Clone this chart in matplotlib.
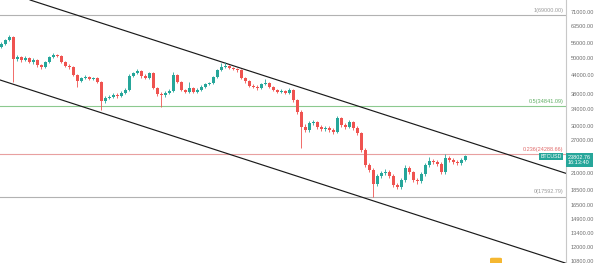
import matplotlib
matplotlib.use("Agg")
import matplotlib.pyplot as plt
from matplotlib.patches import FancyBboxPatch
from matplotlib.ticker import FixedLocator, NullLocator, FuncFormatter

# BTCUSD candles (oldest first)
opens = [54410, 55640, 57350, 58650, 49670, 50440, 49300, 50050, 48560, 49300,
         47480, 46770, 48560, 50440, 51200, 50810, 48560, 47120, 46770, 44030,
         42080, 43040, 43370, 42720, 43040, 41760, 36180, 37010, 37290, 37860,
         37570, 38430, 39310, 43700, 44690, 45380, 43700, 43040, 44690, 39910,
         38140, 37860, 38430, 39020, 44030, 41760, 39310, 38720, 39910, 38720,
         39310, 40210, 41140, 41440, 43370, 45720, 46770, 47120, 46410, 46070,
         45720, 43040, 42080, 40520, 40210, 39910, 41140, 41440, 40210, 39310,
         38720, 39020, 38430, 39310, 36450, 33300, 29730, 29060, 30640, 30870,
         29730, 29290, 29510, 29060, 28630, 31820, 30180, 29730, 30870, 29510,
         28410, 25000, 22320, 21490, 19330, 20540, 21010, 21170, 20540, 19190,
         18900, 19930, 21810, 21170, 19930, 19780, 20850, 22320, 23000, 22830,
         22490, 21170, 23530, 23180, 22830, 22650, 23180]
closes = [55640, 57350, 58650, 49670, 50440, 49300, 50050, 48560, 49300, 47480,
          46770, 48560, 50440, 51200, 50810, 48560, 47120, 46770, 44030, 42080,
          43040, 43370, 42720, 43040, 41760, 36180, 37010, 37290, 37860, 37570,
          38430, 39310, 43700, 44690, 45380, 43700, 43040, 44690, 39910, 38140,
          37860, 38430, 39020, 44030, 41760, 39310, 38720, 39910, 38720, 39310,
          40210, 41140, 41440, 43370, 45720, 46770, 47120, 46410, 46070, 45720,
          43040, 42080, 40520, 40210, 39910, 41140, 41440, 40210, 39310, 38720,
          39020, 38430, 39310, 36450, 33300, 29730, 29060, 30640, 30870, 29730,
          29290, 29510, 29060, 28630, 31820, 30180, 29730, 30870, 29510, 28410,
          25000, 22320, 21490, 19330, 20540, 21010, 21170, 20540, 19190, 18900,
          19930, 21810, 21170, 19930, 19780, 20850, 22320, 23000, 22830, 22490,
          21170, 23530, 23180, 22830, 22650, 23180, 23802.76]
highs = [56300, 57900, 59540, 59100, 51300, 51000, 50700, 50600, 49900, 49800,
         48000, 49000, 50900, 51950, 51700, 51200, 49000, 47700, 47100, 44400,
         43500, 43900, 43800, 43500, 43400, 42100, 37500, 37800, 38300, 38300,
         38900, 39800, 44200, 45200, 46070, 45800, 44200, 45200, 45000, 40300,
         38600, 38900, 39500, 45040, 44400, 42100, 39700, 41760, 40300, 39800,
         40700, 41600, 41900, 43800, 46200, 48200, 48560, 47600, 46900, 46500,
         46000, 43500, 42500, 41000, 40700, 41600, 42720, 41800, 40600, 39700,
         39500, 39400, 39910, 39700, 36800, 33700, 30400, 31100, 31300, 31200,
         30100, 29900, 29900, 29400, 32300, 32100, 30600, 31300, 31200, 29900,
         28700, 25300, 22700, 21800, 20900, 21400, 21600, 21500, 20800, 19500,
         20300, 22320, 22100, 21400, 20200, 21200, 22700, 23720, 23400, 23200,
         22800, 24250, 23900, 23500, 23100, 23500, 24000]
lows = [53900, 55200, 56900, 41760, 48900, 48700, 48800, 48100, 47900, 46900,
        46200, 46300, 48100, 50000, 50300, 48100, 46600, 46200, 43600, 40210,
        41700, 42600, 42300, 42300, 41300, 33800, 35700, 36600, 36900, 37100,
        37200, 38000, 38900, 43300, 44200, 43200, 42600, 42700, 39500, 37700,
        34580, 37400, 38000, 38700, 41300, 38900, 38300, 38400, 38300, 38300,
        38900, 39800, 40700, 41000, 43000, 45300, 46300, 45900, 45600, 45200,
        42600, 41600, 40100, 39800, 39400, 39500, 40700, 39800, 38900, 38300,
        38300, 38000, 38000, 36000, 32900, 25370, 28600, 28700, 30200, 29300,
        28900, 28900, 28700, 28300, 28400, 29800, 29300, 29400, 29100, 28000,
        24700, 22000, 21100, 17592.79, 19000, 20200, 20700, 20200, 18900, 18600,
        18600, 19600, 20900, 19600, 19400, 19500, 20600, 22000, 22500, 22200,
        20900, 20900, 22900, 22500, 22300, 22400, 23000]

# Fibonacci retracement levels (label, price, colour)
fib_labels = ["1", "0.5", "0.236", "0"]
fib_prices = [69000.00, 34841.09, 24288.66, 17592.79]
fib_colors = ["#b2b2b2", "#8cc98f", "#e8a0a0", "#b2b2b2"]
fib_text_colors = ["#9a9a9a", "#5fae63", "#e06b6b", "#9a9a9a"]

# Descending channel: two anchor points (bar index, price) per line
upper_anchor = [(0, 83260), (140, 21210)]
lower_anchor = [(0, 42300), (140, 10760)]

# Price-scale ticks
y_ticks = [71000, 63500, 56000, 50000, 44000, 38000, 34000, 30000, 27000,
           21000, 18500, 16500, 14900, 13400, 12000, 10800]

symbol = "BTCUSD"
last_time = "16:13:40"

UP = "#26a69a"
DOWN = "#ef5350"
FONT = "Liberation Sans"

fig = plt.figure(figsize=(6, 2.63), dpi=100)
fig.patch.set_facecolor("white")
ax = fig.add_axes([0, 0, 566 / 600, 1])
ax.set_yscale("log")
ax.set_xlim(-0.25, 141.25)
ax.set_ylim(10650, 77550)

# Fib levels
for lab, p, c, tc in zip(fib_labels, fib_prices, fib_colors, fib_text_colors):
    ax.axhline(p, color=c, lw=0.8, zorder=1)
    ax.annotate(f"{lab}({p:.2f})", xy=(1, p), xycoords=ax.get_yaxis_transform(),
                xytext=(-2, 1.5), textcoords="offset points", ha="right",
                va="bottom", fontsize=4, color=tc, family=FONT)

# Candles
n = len(closes)
xs = list(range(n))
cols = [UP if c >= o else DOWN for o, c in zip(opens, closes)]
ax.vlines(xs, lows, highs, colors=cols, lw=0.6, zorder=3)
bottoms = [min(o, c) for o, c in zip(opens, closes)]
heights = [max(abs(c - o), 60) for o, c in zip(opens, closes)]
ax.bar(xs, heights, bottom=bottoms, width=0.75, color=cols, lw=0, zorder=4)

# Channel lines
ax.axline(upper_anchor[0], upper_anchor[1], color="#1a1a1a", lw=0.85, zorder=2)
ax.axline(lower_anchor[0], lower_anchor[1], color="#1a1a1a", lw=0.85, zorder=2)

# Small event marker at the bottom edge
ax.add_patch(FancyBboxPatch((490 / 566, -0.01), 12 / 566, 0.03,
                            boxstyle="round,pad=0,rounding_size=0.004",
                            transform=ax.transAxes, fc="#f5b731", ec="none",
                            zorder=5, clip_on=True))

# Price scale on the right
ax.yaxis.tick_right()
ax.yaxis.set_major_locator(FixedLocator(y_ticks))
ax.yaxis.set_minor_locator(NullLocator())
ax.yaxis.set_major_formatter(FuncFormatter(lambda v, _: f"{v:.2f}"))
ax.tick_params(axis="y", length=0, pad=3.5, labelsize=4, labelcolor="#6e6e6e")
for t in ax.get_yticklabels():
    t.set_family(FONT)
ax.set_xticks([])
for s in ["top", "left", "bottom"]:
    ax.spines[s].set_visible(False)
ax.spines["right"].set_color("#c8c8c8")
ax.spines["right"].set_linewidth(0.8)

# Last price labels
last = closes[-1]
ax.annotate(symbol, xy=(1, last), xycoords=ax.get_yaxis_transform(),
            xytext=(-3, 0), textcoords="offset points", ha="right", va="center",
            fontsize=3.8, color="white", family=FONT, zorder=6,
            bbox=dict(boxstyle="square,pad=0.25", fc=UP, ec="none"))
ax.annotate(f"{last:.2f}\n{last_time}", xy=(1, last), xycoords=ax.get_yaxis_transform(),
            xytext=(1.5, -2.5), textcoords="offset points", ha="left", va="center",
            fontsize=4, color="white", family=FONT, linespacing=1.0,
            annotation_clip=False, zorder=6,
            bbox=dict(boxstyle="square,pad=0.3", fc=UP, ec="none"))

fig.savefig("out.png", dpi=100, facecolor="white")
